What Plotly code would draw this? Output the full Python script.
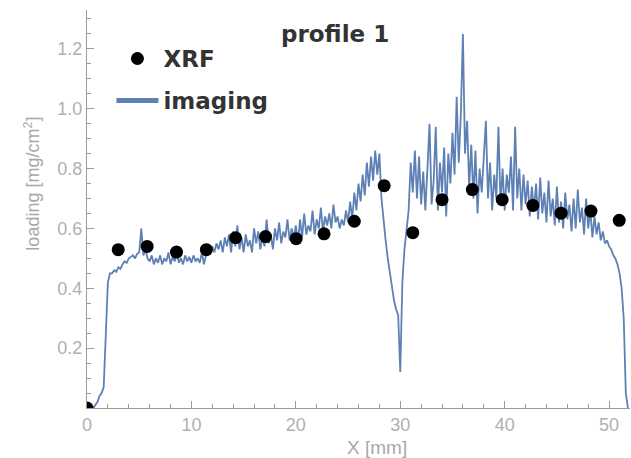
import plotly.graph_objects as go

# XRF measurements
xrf_x = [0.0, 2.99, 5.76, 8.57, 11.43, 14.23, 17.1, 20.03, 22.7, 25.6, 28.46,
         31.2, 34.0, 36.9, 39.76, 42.7, 45.4, 48.26, 50.97]
xrf_y = [0.0, 0.529, 0.54, 0.521, 0.529, 0.569, 0.573, 0.566, 0.582, 0.624, 0.743,
         0.586, 0.696, 0.73, 0.696, 0.677, 0.651, 0.658, 0.627]

# imaging profile, sampled every 0.2 mm starting at 0
img_step = 0.2
img_y = [
    0, 0, 0, 0, 0.01, 0.02, 0.04, 0.05, 0.07, 0.25,            # 0.0 - 1.8
    0.42, 0.45, 0.45, 0.46, 0.455, 0.47, 0.465, 0.48, 0.49, 0.485,  # 2.0 - 3.8
    0.50, 0.505, 0.51, 0.50, 0.515, 0.52, 0.60, 0.51, 0.53, 0.50,   # 4.0 - 5.8
    0.49, 0.51, 0.48, 0.50, 0.485, 0.51, 0.48, 0.50, 0.49, 0.52,    # 6.0 - 7.8
    0.48, 0.505, 0.49, 0.515, 0.485, 0.50, 0.48, 0.51, 0.49, 0.505, # 8.0 - 9.8
    0.485, 0.51, 0.49, 0.50, 0.485, 0.52, 0.48, 0.51, 0.53, 0.515,  # 10.0 - 11.8
    0.54, 0.52, 0.55, 0.53, 0.56, 0.52, 0.57, 0.54, 0.58, 0.52,     # 12.0 - 13.8
    0.59, 0.54, 0.61, 0.53, 0.57, 0.52, 0.58, 0.54, 0.56, 0.52,     # 14.0 - 15.8
    0.60, 0.55, 0.59, 0.53, 0.57, 0.54, 0.63, 0.55, 0.58, 0.53,     # 16.0 - 17.8
    0.60, 0.56, 0.62, 0.55, 0.59, 0.57, 0.63, 0.56, 0.60, 0.57,     # 18.0 - 19.8
    0.61, 0.55, 0.63, 0.57, 0.65, 0.58, 0.61, 0.59, 0.66, 0.58,     # 20.0 - 21.8
    0.63, 0.60, 0.67, 0.59, 0.64, 0.61, 0.65, 0.60, 0.68, 0.62,     # 22.0 - 23.8
    0.64, 0.60, 0.63, 0.61, 0.66, 0.62, 0.69, 0.63, 0.72, 0.66,     # 24.0 - 25.8
    0.75, 0.69, 0.78, 0.71, 0.82, 0.74, 0.84, 0.76, 0.86, 0.78,     # 26.0 - 27.8
    0.85, 0.70, 0.62, 0.56, 0.50, 0.45, 0.40, 0.36, 0.33, 0.31,     # 28.0 - 29.8
    0.12, 0.42, 0.53, 0.60, 0.66, 0.82, 0.72, 0.86, 0.70, 0.84,     # 30.0 - 31.8
    0.68, 0.79, 0.66, 0.80, 0.95, 0.68, 0.76, 0.94, 0.66, 0.82,     # 32.0 - 33.8
    0.72, 0.87, 0.64, 0.85, 0.75, 0.92, 0.78, 1.04, 0.82, 0.98,     # 34.0 - 35.8
    1.25, 0.85, 0.96, 0.74, 0.88, 0.70, 0.86, 0.65, 0.80, 0.72,     # 36.0 - 37.8
    0.84, 0.96, 0.70, 0.82, 0.66, 0.78, 0.70, 0.94, 0.68, 0.80,     # 38.0 - 39.8
    0.66, 0.78, 0.72, 0.84, 0.66, 0.94, 0.70, 0.80, 0.66, 0.78,     # 40.0 - 41.8
    0.68, 0.76, 0.64, 0.74, 0.66, 0.75, 0.63, 0.77, 0.65, 0.72,     # 42.0 - 43.8
    0.62, 0.76, 0.64, 0.70, 0.61, 0.74, 0.62, 0.69, 0.60, 0.72,     # 44.0 - 45.8
    0.63, 0.68, 0.59, 0.70, 0.60, 0.73, 0.62, 0.67, 0.58, 0.70,     # 46.0 - 47.8
    0.60, 0.66, 0.57, 0.64, 0.58, 0.62, 0.56, 0.59, 0.55, 0.56,     # 48.0 - 49.8
    0.54, 0.53, 0.51, 0.50, 0.48, 0.45, 0.40, 0.30, 0.05, 0.0,      # 50.0 - 51.8
]
img_x = [round(i * img_step, 1) for i in range(len(img_y))]

y_tickvals = [0.2, 0.4, 0.6, 0.8, 1.0, 1.2]
y_ticktext = ["0.2", "0.4", "0.6", "0.8", "1.0", "1.2"]
x_tickvals = [0, 10, 20, 30, 40, 50]
x_ticktext = ["0", "10", "20", "30", "40", "50"]

line_color = "#5E81B5"
axis_color = "#9a9a9a"
tick_font = dict(family="Liberation Sans, Arial", size=18, color="#b0b0b0")
leg_font = dict(family="DejaVu Sans", size=23, color="#333333", weight="bold")

fig = go.Figure()
fig.add_trace(go.Scatter(x=img_x, y=img_y, mode="lines",
                         line=dict(color=line_color, width=1.8),
                         showlegend=False, hoverinfo="skip"))
fig.add_trace(go.Scatter(x=xrf_x, y=xrf_y, mode="markers",
                         marker=dict(color="black", size=13),
                         name="XRF", legendgroup="a"))
# legend entry for the imaging line (thicker swatch)
fig.add_trace(go.Scatter(x=[None], y=[None], mode="lines",
                         line=dict(color=line_color, width=5),
                         name="imaging", legendgroup="b"))

fig.update_layout(
    width=631, height=458,
    margin=dict(l=87, r=1, t=10, b=50),
    paper_bgcolor="white", plot_bgcolor="white",
    legend=dict(x=0.045, y=0.932, xanchor="left", yanchor="top",
                font=leg_font, bgcolor="rgba(0,0,0,0)",
                tracegroupgap=9, itemwidth=42, traceorder="grouped"),
    annotations=[
        dict(text="profile 1", x=0.457, y=0.94, xref="paper", yref="paper",
             xanchor="center", yanchor="middle", showarrow=False,
             font=dict(family="DejaVu Sans", size=23, color="#333333", weight="bold")),
        dict(text="loading [mg/cm<sup>2</sup>]", x=-0.1, y=0.563, xref="paper", yref="paper",
             textangle=-90, xanchor="center", yanchor="middle", showarrow=False,
             font=dict(family="Liberation Sans, Arial", size=18, color="#a8a8a8")),
        dict(text="X [mm]", x=0.534, y=-0.098, xref="paper", yref="paper",
             xanchor="center", yanchor="middle", showarrow=False,
             font=dict(family="Liberation Sans, Arial", size=19, color="#a8a8a8")),
    ],
)
fig.update_xaxes(range=[0, 52], showgrid=False, zeroline=False,
                 showline=True, linecolor=axis_color, linewidth=1.2,
                 tickvals=x_tickvals, ticktext=x_ticktext,
                 ticks="inside", ticklen=7, tickcolor=axis_color, tickwidth=1,
                 tickfont=tick_font,
                 minor=dict(ticks="inside", dtick=2, ticklen=4, tickcolor=axis_color, showgrid=False))
fig.update_yaxes(range=[0, 1.33], showgrid=False, zeroline=False,
                 showline=True, linecolor=axis_color, linewidth=1.2,
                 tickvals=y_tickvals, ticktext=y_ticktext,
                 ticks="inside", ticklen=7, tickcolor=axis_color, tickwidth=1,
                 tickfont=tick_font,
                 minor=dict(ticks="inside", dtick=0.05, tick0=0, ticklen=4, tickcolor=axis_color, showgrid=False))

fig.write_html("out.html")
